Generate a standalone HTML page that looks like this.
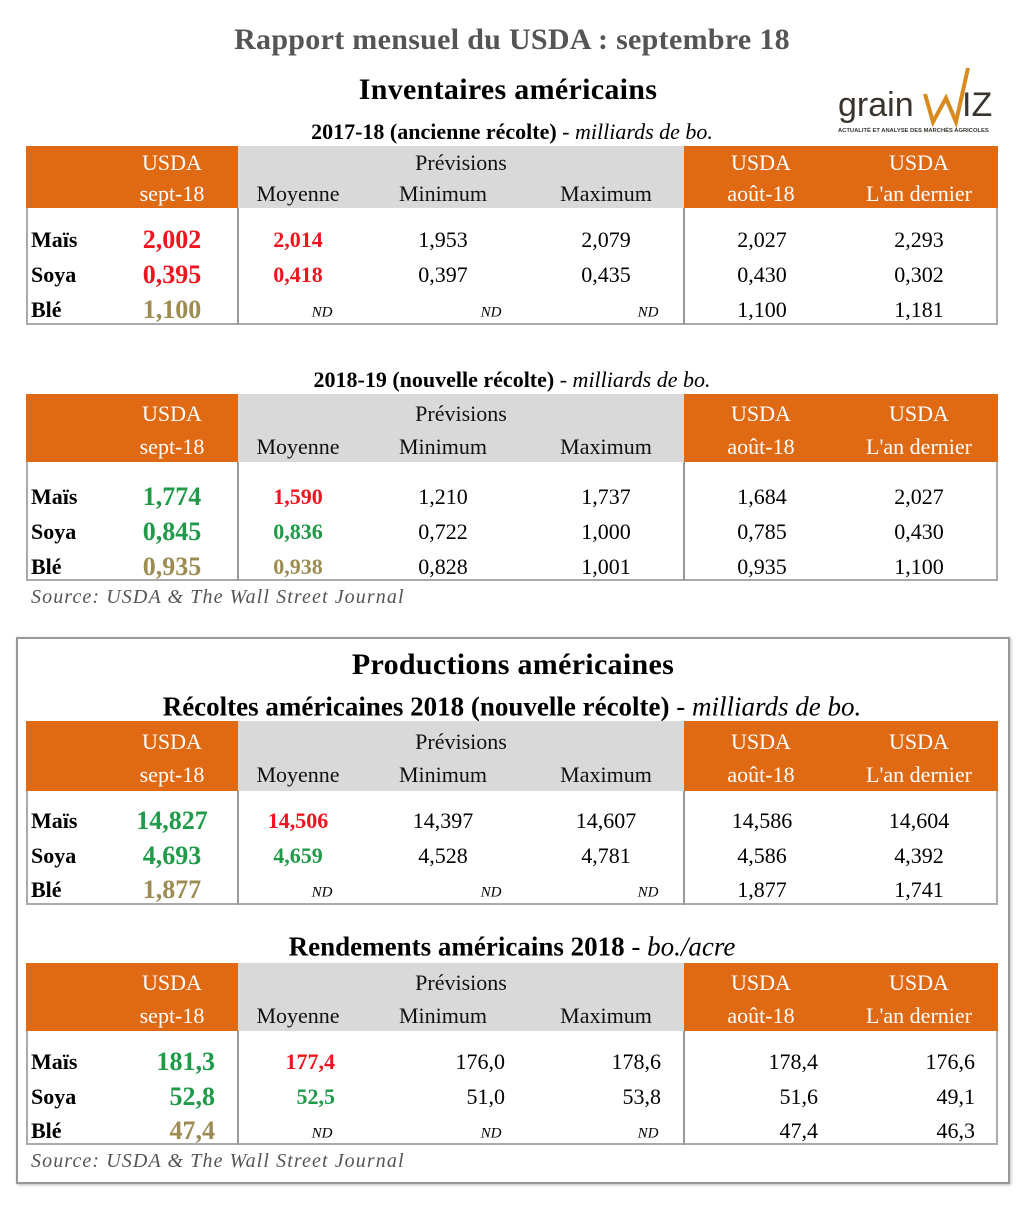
<!DOCTYPE html>
<html><head><meta charset="utf-8">
<style>
body{margin:0;width:1024px;height:1205px;background:#fff;position:relative;overflow:hidden;font-family:"Liberation Serif",serif;}
.a{position:absolute;white-space:nowrap;line-height:1;}
.c{transform:translate(-50%,-50%);}
.r{transform:translate(-100%,-50%);}
.l{transform:translate(0,-50%);}
.box{position:absolute;box-sizing:border-box;}
</style></head>
<body>
<div class="a c" style="left:512px;top:40px;font-size:30px;font-weight:bold;color:#555;letter-spacing:0.3px">Rapport mensuel du USDA : septembre 18</div>
<div class="a c" style="left:508px;top:90px;font-size:30px;font-weight:bold;letter-spacing:0.3px">Inventaires américains</div>
<div class="box" style="left:838px;top:64px;width:160px;height:76px">
<svg width="160" height="76"><text x="0" y="52" font-family="Liberation Sans,sans-serif" font-size="34" fill="#3a342e">grain</text>
<polyline points="87,30 95,58 108,34 118,58 130,4" fill="none" stroke="#d98a1e" stroke-width="4"/>
<text x="124" y="52" font-family="Liberation Sans,sans-serif" font-size="34" fill="#3a342e">IZ</text>
<text x="0" y="68" font-family="Liberation Sans,sans-serif" font-size="5.8" font-weight="bold" fill="#3a342e">ACTUALITÉ ET ANALYSE DES MARCHÉS AGRICOLES</text></svg></div>
<div class="box" style="left:16px;top:637px;width:994px;height:547px;border:2px solid #999;box-shadow:1px 1px 3px #bbb"></div>
<div class="a c" style="left:513px;top:665px;font-size:30px;font-weight:bold;letter-spacing:0.3px">Productions américaines</div>
<script>
const tables=[
 {name:"inventaires-2017-18",title:'<b>2017-18 (ancienne récolte)</b> - <i>milliards de bo.</i>',ty:132,tsize:22,top:146,hb:208,bot:325,h1:163,h2:194,rows:[240,275,310],right:false,
  vals:[["2,002","2,014","1,953","2,079","2,027","2,293"],["0,395","0,418","0,397","0,435","0,430","0,302"],["1,100","ND","ND","ND","1,100","1,181"]],
  cols:[["r","r"],["r","r"],["o","o"]],src:null},
 {name:"inventaires-2018-19",title:'<b>2018-19 (nouvelle récolte)</b> - <i>milliards de bo.</i>',ty:380,tsize:22,top:394,hb:462,bot:581,h1:414,h2:447,rows:[497,532,567],right:false,
  vals:[["1,774","1,590","1,210","1,737","1,684","2,027"],["0,845","0,836","0,722","1,000","0,785","0,430"],["0,935","0,938","0,828","1,001","0,935","1,100"]],
  cols:[["g","r"],["g","g"],["o","o"]],src:597},
 {name:"recoltes-2018",title:'<b>Récoltes américaines 2018 (nouvelle récolte)</b> - <i>milliards de bo.</i>',ty:707,tsize:27,top:721,hb:791,bot:905,h1:742,h2:775,rows:[821,856,890],right:false,
  vals:[["14,827","14,506","14,397","14,607","14,586","14,604"],["4,693","4,659","4,528","4,781","4,586","4,392"],["1,877","ND","ND","ND","1,877","1,741"]],
  cols:[["g","r"],["g","g"],["o","o"]],src:null},
 {name:"rendements-2018",title:'<b>Rendements américains 2018</b> - <i>bo./acre</i>',ty:947,tsize:27,top:963,hb:1031,bot:1145,h1:983,h2:1016,rows:[1062,1097,1131],right:true,
  vals:[["181,3","177,4","176,0","178,6","178,4","176,6"],["52,8","52,5","51,0","53,8","51,6","49,1"],["47,4","ND","ND","ND","47,4","46,3"]],
  cols:[["g","r"],["g","g"],["o","o"]],src:1161}
];
const labels=["Maïs","Soya","Blé"];
const colors={r:"#f0141e",g:"#1f9a48",o:"#9c8c52"};
const cx=[172,298,443,606,762,919], cxR=[215,335,505,661,818,975], ndx=[322,491,648];
const root=document.body;
function mk(cls,style,html){const d=document.createElement('div');d.className=cls;d.style.cssText=style;d.innerHTML=html;root.appendChild(d);return d;}
tables.forEach((t,ti)=>{
  let e=mk('a c',`left:512px;top:${t.ty}px;font-size:${t.tsize}px`,t.title);
  
  
  e=mk('box',`left:26px;top:${t.top}px;width:212px;height:${t.hb-t.top}px;background:#e06a14`,'');
  
  
  e=mk('box',`left:238px;top:${t.top}px;width:446px;height:${t.hb-t.top}px;background:#d9d9d9`,'');
  
  
  e=mk('box',`left:684px;top:${t.top}px;width:314px;height:${t.hb-t.top}px;background:#e06a14`,'');
  
  
  e=mk('box',`left:26px;top:${t.hb}px;width:972px;height:${t.bot-t.hb}px;border:2px solid #aaa;border-top:none`,'');
  
  
  [238,684].forEach(x=>{e=mk('box',`left:${x-1}px;top:${t.hb}px;width:2px;height:${t.bot-t.hb}px;background:#999`,'');
    
    });
  const hs=[[172,t.h1,"USDA","#fff"],[172,t.h2,"sept-18","#fff"],[461,t.h1,"Prévisions","#111"],[298,t.h2,"Moyenne","#111"],[443,t.h2,"Minimum","#111"],[606,t.h2,"Maximum","#111"],[761,t.h1,"USDA","#fff"],[761,t.h2,"août-18","#fff"],[919,t.h1,"USDA","#fff"],[919,t.h2,"L'an dernier","#fff"]];
  hs.forEach(h=>{e=mk('a c',`left:${h[0]}px;top:${h[1]}px;font-size:22px;color:${h[3]}`,h[2]);
    
    });
  t.rows.forEach((y,ri)=>{
    e=mk('a l',`left:31px;top:${y}px;font-size:22px;font-weight:bold`,labels[ri]);
    
    
    t.vals[ri].forEach((v,ci)=>{
      let st,cls;
      if(v==="ND"){cls='a c';st=`left:${ndx[ci-1]}px;top:${y+3}px;font-size:15px;font-style:italic`;}
      else{
        cls=t.right?'a r':'a c';
        const x=t.right?cxR[ci]:cx[ci];
        if(ci===0) st=`left:${x}px;top:${y}px;font-size:26px;font-weight:bold;color:${colors[t.cols[ri][0]]}`;
        else if(ci===1) st=`left:${x}px;top:${y}px;font-size:22px;font-weight:bold;color:${colors[t.cols[ri][1]]}`;
        else st=`left:${x}px;top:${y}px;font-size:22px`;
      }
      e=mk(cls,st,v);
      
      
    });
  });
  if(t.src){e=mk('a l',`left:31px;top:${t.src}px;font-size:20px;font-style:italic;color:#555;letter-spacing:1.1px`,'Source: USDA &amp; The Wall Street Journal');
    
    }
});
</script>
</body></html>
